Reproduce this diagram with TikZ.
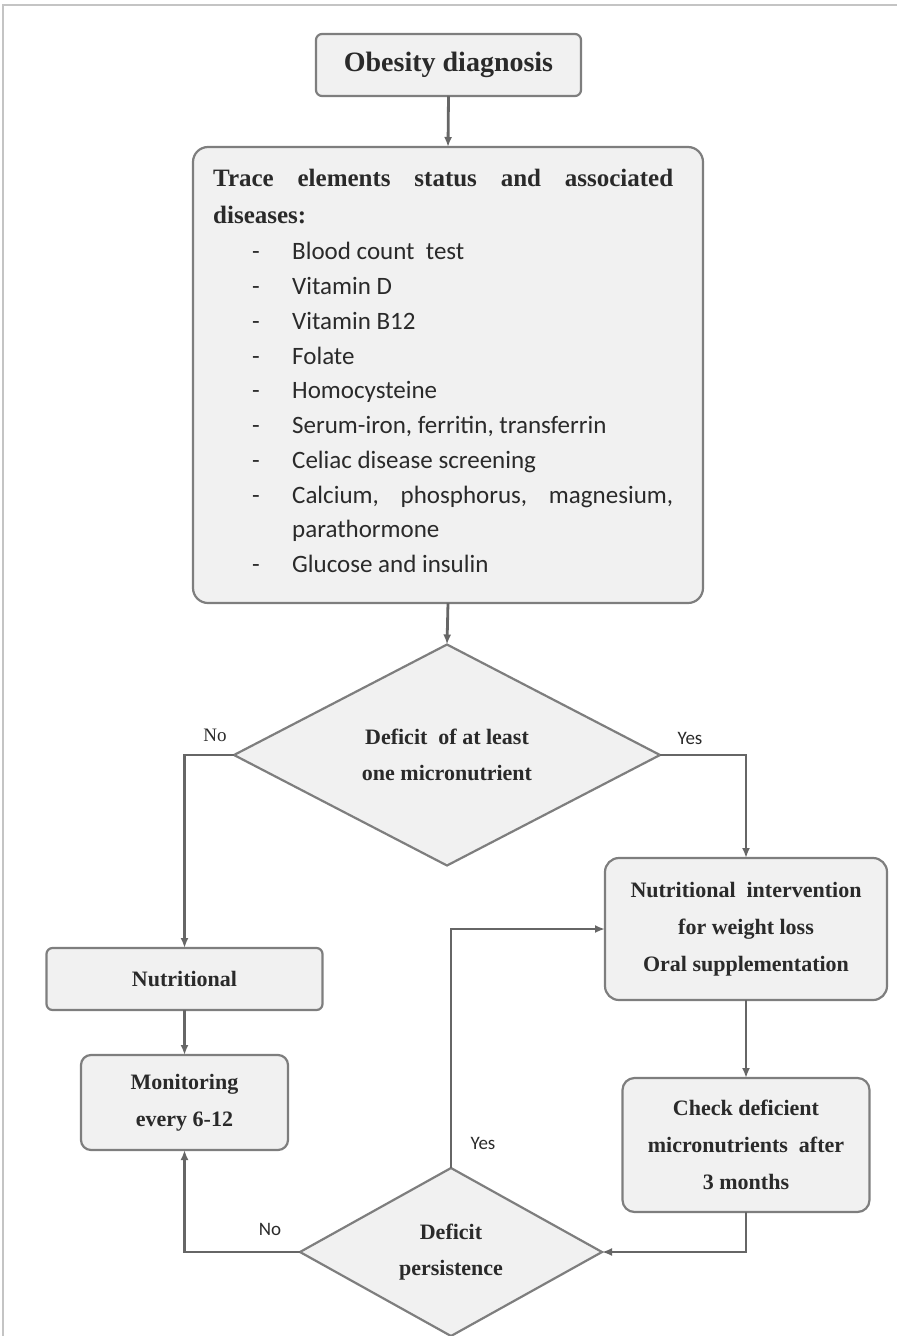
\documentclass[tikz,border=0pt]{standalone}
\usepackage{fontspec}
\setmainfont{Liberation Serif}
\newfontfamily\carl{Carlito}
\usetikzlibrary{shapes.geometric,arrows.meta}
\definecolor{boxfill}{HTML}{F1F1F1}
\definecolor{boxline}{HTML}{7E7E7E}
\definecolor{conn}{HTML}{666666}
\definecolor{txt}{HTML}{2A2A2A}
\definecolor{framec}{HTML}{C4C4C4}
\begin{document}
\begin{tikzpicture}[x=1pt,y=-1pt,
 box/.style={draw=boxline, fill=boxfill, line width=2.2pt, rounded corners=10pt, outer sep=0pt, inner sep=0pt, text=txt, align=center, font=\bfseries\fontsize{22}{37}\selectfont},
 dec/.style={diamond, draw=boxline, fill=boxfill, line width=2.2pt, outer sep=0pt, inner sep=0pt, text=txt, align=center, font=\bfseries\fontsize{22}{36}\selectfont},
 arr/.style={draw=conn, line width=2.8pt, -{Latex[length=10pt,width=8pt]}},
 lblserif/.style={text=txt, inner sep=0pt, font=\fontsize{19}{22}\selectfont},
 lblsans/.style={text=txt, inner sep=0pt, font=\carl\fontsize{19}{22}\selectfont},
 ttl/.style={anchor=base west, inner sep=0pt, text=txt, font=\bfseries\fontsize{25}{30}\selectfont},
 item/.style={anchor=base west, inner sep=0pt, text=txt, font=\carl\fontsize{25}{30}\selectfont},
]
\useasboundingbox (0,0) rectangle (897,1336);
\draw[draw=framec, line width=2pt] (3,1336) -- (3,5) -- (897,5);

% nodes
\node[box, minimum width=265pt, minimum height=62pt, rounded corners=6pt, font=\bfseries\fontsize{28}{34}\selectfont] (obes) at (448.5,65) {Obesity diagnosis};
\node[box, minimum width=510pt, minimum height=456pt, rounded corners=15pt] (trace) at (448,375) {};
\node[ttl] (tt1) at (213,186) {\makebox[460pt][l]{Trace\hfill elements\hfill status\hfill and\hfill associated}};
\node[ttl] (tt2) at (213,223) {diseases:};
\node[item] (i1) at (252,259) {\makebox[40pt][l]{-}Blood count\ \ test};
\node[item] (i2) at (252,294) {\makebox[40pt][l]{-}Vitamin D};
\node[item] (i3) at (252,329) {\makebox[40pt][l]{-}Vitamin B12};
\node[item] (i4) at (252,364) {\makebox[40pt][l]{-}Folate};
\node[item] (i5) at (252,398) {\makebox[40pt][l]{-}Homocysteine};
\node[item] (i6) at (252,433) {\makebox[40pt][l]{-}Serum-iron, ferritin, transferrin};
\node[item] (i7) at (252,468) {\makebox[40pt][l]{-}Celiac disease screening};
\node[item] (i8) at (252,503) {\makebox[40pt][l]{-}\makebox[381pt][l]{Calcium,\hfill phosphorus,\hfill magnesium,}};
\node[item] (i8b) at (292,537) {parathormone};
\node[item] (i9) at (252,572) {\makebox[40pt][l]{-}Glucose and insulin};

\node[dec, aspect=1.93, minimum width=426pt, minimum height=221pt] (d1) at (447,755) {Deficit\ \ of at least\\one micronutrient};
\node[box, minimum width=276pt, minimum height=62pt, rounded corners=6pt] (nutr) at (184.5,979) {Nutritional};
\node[box, minimum width=207pt, minimum height=95pt] (mon) at (184.5,1102.5) {Monitoring\\every 6-12};
\node[box, minimum width=282pt, minimum height=142pt, rounded corners=14pt] (interv) at (746,929) {Nutritional\ \ intervention\\for weight loss\\Oral supplementation};
\node[box, minimum width=247pt, minimum height=134pt, rounded corners=12pt] (check) at (746,1145) {Check deficient\\micronutrients\ \ after\\3 months};
\node[dec, aspect=1.8, minimum width=302pt, minimum height=168pt] (d2) at (451,1252) {Deficit\\persistence};

% labels
\node[lblserif] (lno1) at (215,735) {No};
\node[lblsans] (lyes1) at (690,738) {Yes};
\node[lblsans] (lyes2) at (483,1143) {Yes};
\node[lblsans] (lno2) at (270,1229) {No};

% connectors
\draw[arr] (obes.south) -- (trace.north);
\draw[arr] (trace.south) -- (d1.north);
\draw[arr] (d1.west) -| (nutr.north);
\draw[arr] (d1.east) -| (interv.north);
\draw[arr] (nutr.south) -- (mon.north);
\draw[arr] (interv.south) -- (check.north);
\draw[arr] (check.south) |- (d2.east);
\draw[arr] (d2.north) |- (interv.west);
\draw[arr] (d2.west) -| (mon.south);
\end{tikzpicture}
\end{document}
